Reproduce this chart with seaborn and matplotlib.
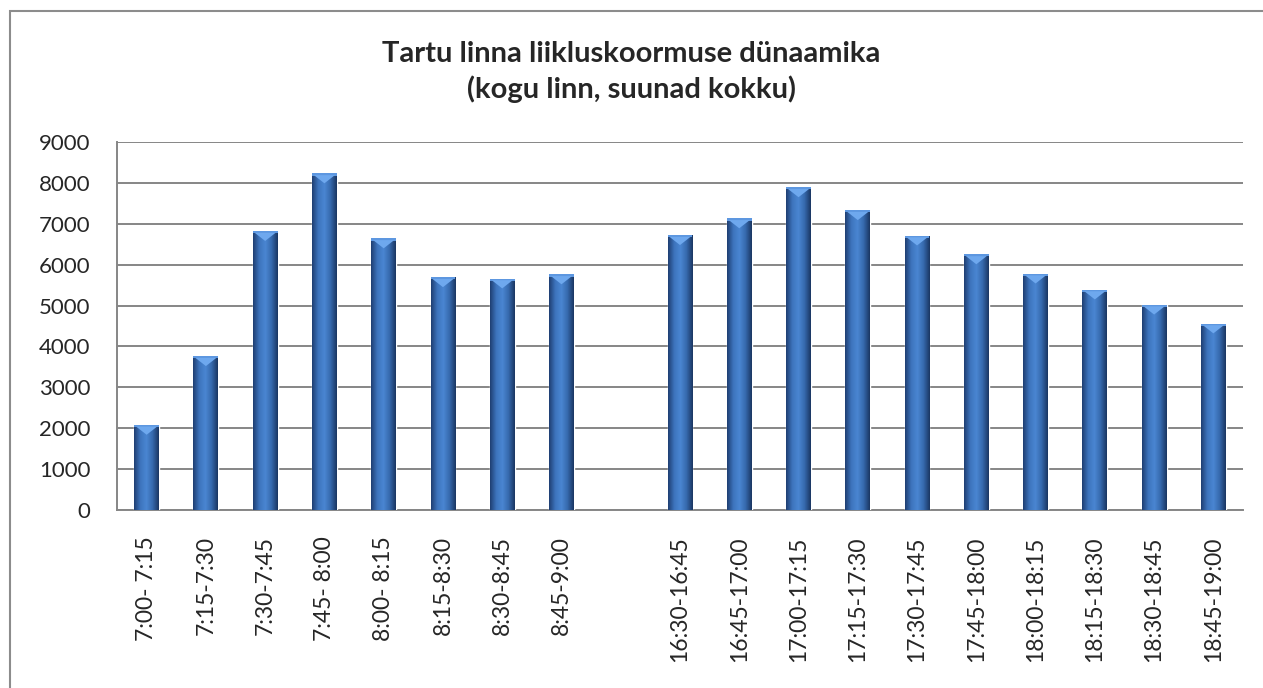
import numpy as np
import pandas as pd
import matplotlib
matplotlib.use("Agg")
import matplotlib.pyplot as plt
import seaborn as sns
from matplotlib.colors import LinearSegmentedColormap
from matplotlib.patches import Rectangle, Polygon

# time slots (the blank one is the gap between morning and evening counts)
slots = [
    "7:00- 7:15", "7:15-7:30", "7:30-7:45", "7:45- 8:00", "8:00- 8:15",
    "8:15-8:30", "8:30-8:45", "8:45-9:00", "",
    "16:30-16:45", "16:45-17:00", "17:00-17:15", "17:15-17:30", "17:30-17:45",
    "17:45-18:00", "18:00-18:15", "18:15-18:30", "18:30-18:45", "18:45-19:00",
]
volumes = [
    2080, 3760, 6820, 8230, 6640, 5690, 5660, 5760, np.nan,
    6720, 7130, 7890, 7330, 6710, 6250, 5780, 5390, 5020, 4560,
]
yticks = list(range(0, 9001, 1000))

title = "Tartu linna liikluskoormuse dünaamika\n(kogu linn, suunad kokku)"

df = pd.DataFrame({"slot": slots, "volume": volumes}).dropna()

sns.set_style("white")
plt.rcParams["font.family"] = ["Lato", "DejaVu Sans"]

fig = plt.figure(figsize=(12.63, 6.88), dpi=100)
ax = fig.add_axes([117 / 1263, 1 - 510 / 688, (1243 - 117) / 1263, (510 - 142) / 688])

sns.barplot(data=df, x="slot", y="volume", order=slots, color="#3a6fb5",
            width=0.42, ax=ax, zorder=3)

# horizontal shading on each bar, a bit like the Excel bevel
shade = LinearSegmentedColormap.from_list(
    "bevel", ["#1f3f73", "#3d74bd", "#4a86d2", "#3669ad", "#1b3763"])
grad = np.linspace(0, 1, 64).reshape(1, -1)
for bar in list(ax.patches):
    x0, y0 = bar.get_x(), bar.get_y()
    w, h = bar.get_width(), bar.get_height()
    if not np.isfinite(h) or h == 0:
        continue
    top = y0 + h
    im = ax.imshow(grad, cmap=shade, aspect="auto", zorder=4,
                   extent=[x0, x0 + w, y0, top])
    im.set_clip_path(bar)
    ax.add_patch(Rectangle((x0, top - 50), w, 50, color="#5d97e0",
                           lw=0, zorder=5))
    ax.add_patch(Polygon([(x0 + 0.08 * w, top - 40), (x0 + 0.92 * w, top - 40),
                          (x0 + 0.5 * w, top - 240)], closed=True,
                         color="#6ea8ee", lw=0, zorder=5))

ax.set_ylim(0, 9000)
ax.set_xlim(-0.5, len(slots) - 0.5)
ax.set_yticks(yticks)
ax.yaxis.grid(True, color="#868686", linewidth=1.4, zorder=0)
ax.set_axisbelow(True)

for side in ["top", "right"]:
    ax.spines[side].set_visible(False)
for side in ["left", "bottom"]:
    ax.spines[side].set_color("#868686")
    ax.spines[side].set_linewidth(1.4)

ax.tick_params(axis="y", length=0, pad=19, labelsize=16)
ax.tick_params(axis="x", length=0, pad=19, labelsize=16.5, rotation=90)
ax.set_xlabel("")
ax.set_ylabel("")

fig.text(0.5, 1 - 72 / 688, title, ha="center", va="center",
         fontsize=21, fontweight="bold", linespacing=1.4)

# chart-area border (only left and top edges show in the original)
fig.add_artist(Rectangle((9.5 / 1263, -0.05), 1.1, 1 - 11.5 / 688 + 0.05,
                         transform=fig.transFigure, fill=False,
                         edgecolor="#8c8c8c", linewidth=1.5))

fig.savefig("out.png", dpi=100)
